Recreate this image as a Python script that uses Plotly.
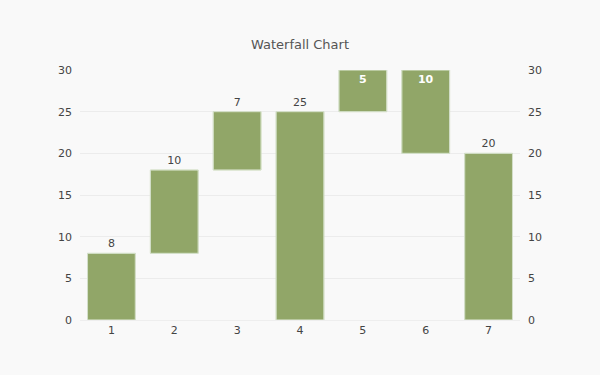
import plotly.graph_objects as go

categories = ["1", "2", "3", "4", "5", "6", "7"]
deltas = [8, 10, 7, None, 5, -10, None]   # None = running total bar
label_positions = ["outside", "outside", "outside", "outside", "inside", "inside", "outside"]

# compute bars from the waterfall steps
bases, heights, labels = [], [], []
running = 0
for d in deltas:
    if d is None:
        bases.append(0)
        heights.append(running)
        labels.append(str(running))
    else:
        start = running
        running += d
        bases.append(min(start, running))
        heights.append(abs(d))
        labels.append(str(abs(d)))

font_fam = "DejaVu Sans, Verdana, sans-serif"

fig = go.Figure()
fig.add_trace(go.Bar(
    x=categories, y=heights, base=bases,
    text=labels, textposition=label_positions,
    insidetextanchor="end",
    textfont=dict(family=font_fam, size=11, color="#444"),
    insidetextfont=dict(family=font_fam, size=11, color="white", weight="bold"),
    outsidetextfont=dict(family=font_fam, size=11, color="#444"),
    cliponaxis=False,
    marker=dict(color="#91a668", line=dict(color="#c3d3a0", width=1)),
    width=0.76,
    hoverinfo="skip",
))
fig.add_trace(go.Bar(
    x=categories, y=heights, base=bases, yaxis="y2",
    marker=dict(color="rgba(0,0,0,0)"), width=0.76, hoverinfo="skip",
    showlegend=False,
))

axis_common = dict(
    range=[0, 30], dtick=5, tickfont=dict(family=font_fam, size=11, color="#444"),
    showline=False, zeroline=False, ticks="",
)
fig.update_layout(
    width=600, height=375,
    paper_bgcolor="#f9f9f9", plot_bgcolor="#f9f9f9",
    margin=dict(l=80, r=80, t=70, b=55),
    title=dict(text="Waterfall Chart", x=0.5, xanchor="center", y=0.882, yanchor="middle",
               font=dict(family=font_fam, size=13, color="#555")),
    showlegend=False,
    barmode="overlay",
    xaxis=dict(tickfont=dict(family=font_fam, size=11, color="#444"), showgrid=False,
               showline=True, linecolor="#eeeeee", ticks="", range=[-0.5, 6.5]),
    yaxis=dict(**axis_common, showgrid=True, gridcolor="#ececec", ticklabelstandoff=7),
    yaxis2=dict(**axis_common, overlaying="y", side="right", showgrid=False, ticklabelstandoff=7),
)
fig.write_html("out.html", config={"displayModeBar": False},
               post_script="document.body.style.margin='0';")
